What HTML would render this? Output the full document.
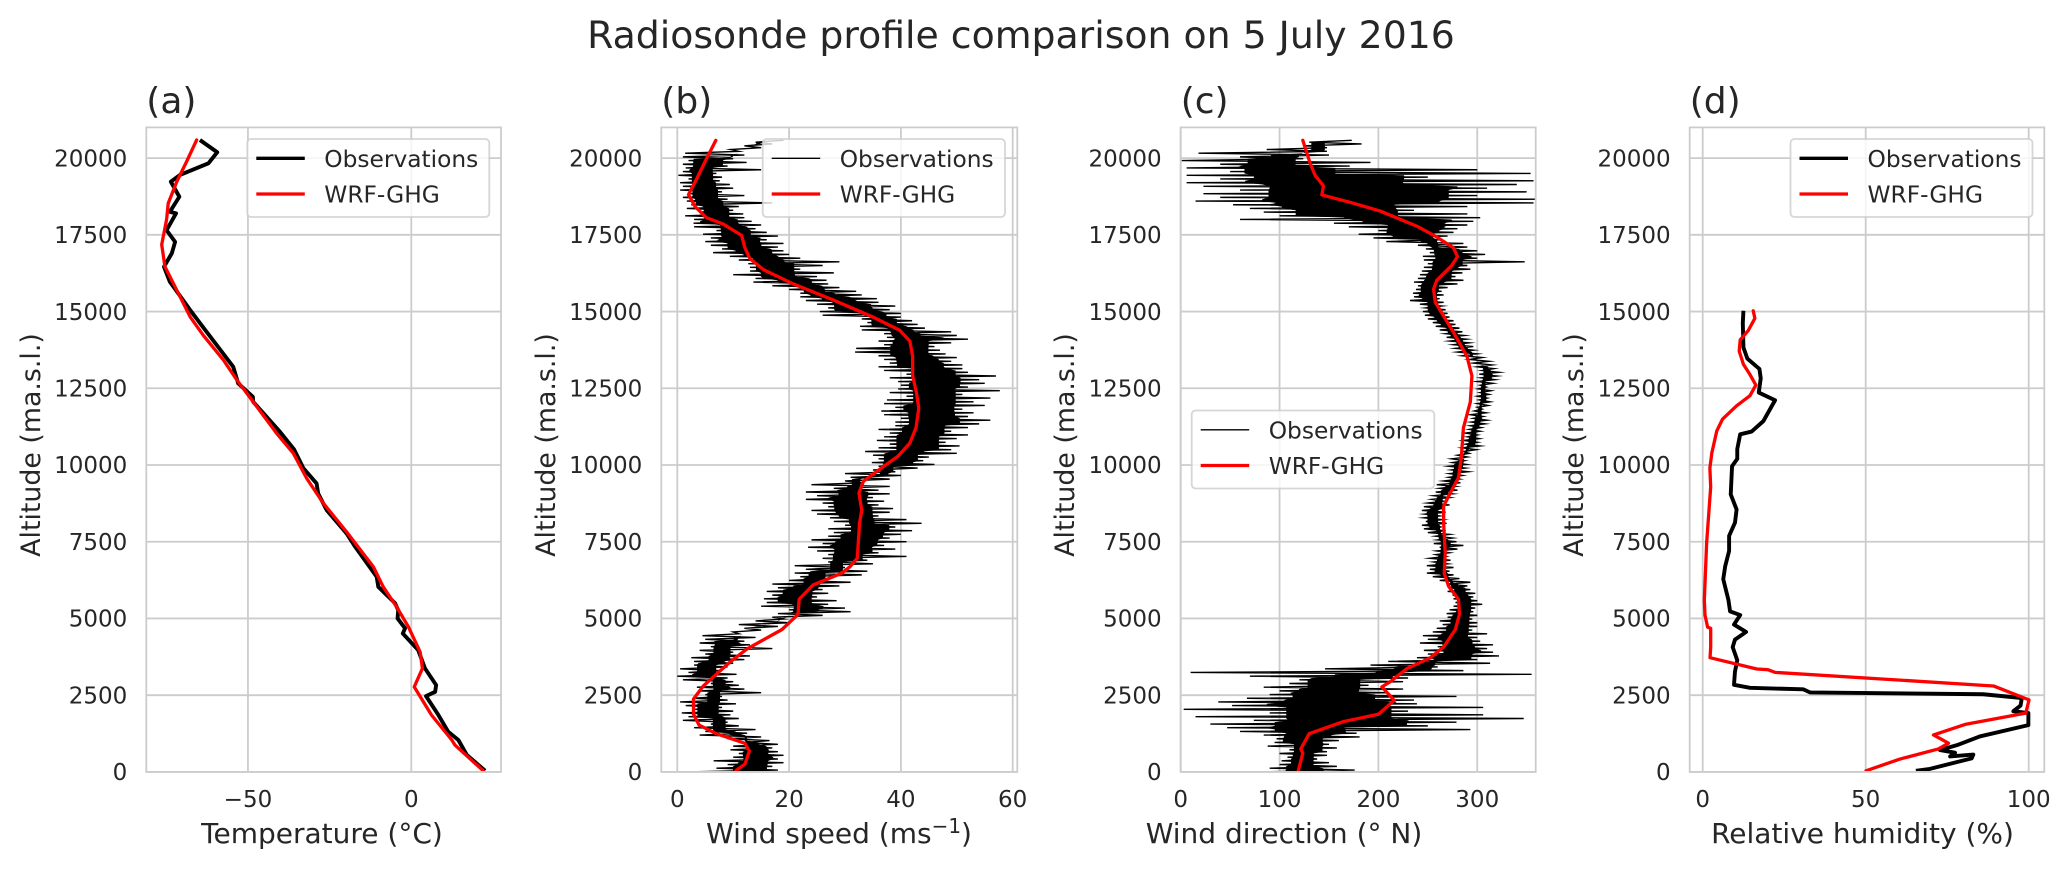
<!DOCTYPE html>
<html lang="en">
<head>
<meta charset="utf-8">
<title>Radiosonde profile comparison on 5 July 2016</title>
<style>
  html, body { margin: 0; padding: 0; background: #fff; }
  svg { display: block; font-family: "DejaVu Sans", "Liberation Sans", sans-serif; fill: #262626; }
</style>
</head>
<body>
<svg id="figure" xmlns="http://www.w3.org/2000/svg" width="2067" height="871" viewBox="0 0 2067 871">
  <rect x="0" y="0" width="2067" height="871" fill="#fff"/>
  <text x="1021" y="48" font-size="37.8" text-anchor="middle">Radiosonde profile comparison on 5 July 2016</text>
</svg>
<script>
const altitudeTicks = [0, 2500, 5000, 7500, 10000, 12500, 15000, 17500, 20000];

const tempTicks = [-50, 0];
const speedTicks = [0, 20, 40, 60];
const directionTicks = [0, 100, 200, 300];
const humidityTicks = [0, 50, 100];

const obsTempAlt = [40,550,1040,1310,1850,2470,2610,2830,3370,3970,4510,4680,5000,5270,5500,6030,6360,7340,7770,8530,9070,9400,9890,10510,11080,12060,12220,12660,13200,13690,14400,15050,15970,16460,16900,17270,17650,18200,18250,18740,19230,19450,19830,20190,20590];
const obsTemp = [22.6,17,14.4,11.3,8.3,4.5,7.3,7.6,4.2,2.1,-2.6,-1.9,-4.2,-4,-5,-10.1,-10.6,-17.2,-19.8,-25.9,-28.5,-29,-33,-35.9,-40.2,-48.4,-48.5,-53,-54.5,-58,-63.1,-67.7,-73.9,-75.7,-73.3,-72.3,-74.9,-72,-73.9,-71,-73.6,-70.8,-62.1,-59.4,-64.7];
const wrfTempAlt = [40,870,1040,1850,2770,3370,3910,4730,5380,6030,6680,7820,8750,9560,10380,11030,12060,12770,13420,14230,14830,15700,16460,17180,18000,18530,19230,19880,20590];
const wrfTemp = [22,13.4,12.4,6.2,0.9,3.4,2.7,-0.9,-4.5,-8.6,-11.6,-19.8,-26.9,-32,-36.1,-41.2,-48.4,-53.4,-57.5,-63.7,-67.7,-71.8,-75.4,-76.4,-74.9,-74.4,-71.8,-68.8,-65.7];

const obsAltitude = [
0,60,120,180,240,300,360,420,480,540,
600,660,720,780,840,900,960,1020,1080,1140,
1200,1260,1320,1380,1440,1500,1560,1620,1680,1740,
1800,1860,1920,1980,2040,2100,2160,2220,2280,2340,
2400,2460,2520,2580,2640,2700,2760,2820,2880,2940,
3000,3060,3120,3180,3240,3300,3360,3420,3480,3540,
3600,3660,3720,3780,3840,3900,3960,4020,4080,4140,
4200,4260,4320,4380,4440,4500,4560,4620,4680,4740,
4800,4860,4920,4980,5040,5100,5160,5220,5280,5340,
5400,5460,5520,5580,5640,5700,5760,5820,5880,5940,
6000,6060,6120,6180,6240,6300,6360,6420,6480,6540,
6600,6660,6720,6780,6840,6900,6960,7020,7080,7140,
7200,7260,7320,7380,7440,7500,7560,7620,7680,7740,
7800,7860,7920,7980,8040,8100,8160,8220,8280,8340,
8400,8460,8520,8580,8640,8700,8760,8820,8880,8940,
9000,9060,9120,9180,9240,9300,9360,9420,9480,9540,
9600,9660,9720,9780,9840,9900,9960,10020,10080,10140,
10200,10260,10320,10380,10440,10500,10560,10620,10680,10740,
10800,10860,10920,10980,11040,11100,11160,11220,11280,11340,
11400,11460,11520,11580,11640,11700,11760,11820,11880,11940,
12000,12060,12120,12180,12240,12300,12360,12420,12480,12540,
12600,12660,12720,12780,12840,12900,12960,13020,13080,13140,
13200,13260,13320,13380,13440,13500,13560,13620,13680,13740,
13800,13860,13920,13980,14040,14100,14160,14220,14280,14340,
14400,14460,14520,14580,14640,14700,14760,14820,14880,14940,
15000,15060,15120,15180,15240,15300,15360,15420,15480,15540,
15600,15660,15720,15780,15840,15900,15960,16020,16080,16140,
16200,16260,16320,16380,16440,16500,16560,16620,16680,16740,
16800,16860,16920,16980,17040,17100,17160,17220,17280,17340,
17400,17460,17520,17580,17640,17700,17760,17820,17880,17940,
18000,18060,18120,18180,18240,18300,18360,18420,18480,18540,
18600,18660,18720,18780,18840,18900,18960,19020,19080,19140,
19200,19260,19320,19380,19440,19500,19560,19620,19680,19740,
19800,19860,19920,19980,20040,20100,20160,20220,20280,20340,
20400,20460,20520,20580];

const obsSpeed = [
1.5,18,7,17,9,19,6.5,18,10,19,
11,18,9.5,17,10,18,12,16.5,9,15,
4,12.5,5,14,3,11,6,9,1,11,
2,9.5,0.8,10,3,8,1.5,10.5,0.5,9,
3,8,5,15,4,12,3.5,11,6,10,
1,9,0,10.6,2,7.5,0.5,9,3,10,
3,12,2.5,13,5,10,4,17,6,13,
4,12,5,14,4.5,11,10,15,12,18,
11,20,14,19,17,26,18,31,20,30,
15,27,16,28.5,15.5,25,17,27,16,26,
18,29,17,31,20,27,22,33,21,34,
23,30,21,35,27,34,26,41,27,36,
25,39,23.4,37,26,41,24,38,27,40,
28,42,27,39,30,43.7,28,41,27.3,36,
25,38,24,38.6,27,36,26,37,23,35,
25,38,23,36,28,38,24,33,30,38,
31,40,30,39,35,43,36,46,34.8,44,
36,45,35,50,33.6,49,36,50.5,38,48,
35.7,50,37,52,38,49,36,52,39,54,
39,56,40,52,37,53,36.5,51,39,55,
37,53,37.5,56,41,51,38,57.7,39.5,52,
40,55,39.5,54,38,57,41,52,37,51,
36,51,38,49,37,50,36,48,31.8,47,
32,46,37,49,36,52,37.5,50,37,49,
33,44.3,32.7,43,34,42,33,40,26,40,
25.5,38,27,39,25,36,23,35.7,22,33,
22,32,20,29,17,27,13.6,26.7,14,25,
10,28,13,22,13,26,12.7,29,11,22,
9.4,20,6.4,19,8,18,6,19,5,16,
6,18,4.6,16,7,14,3,15,2.9,13.3,
3,12,1.4,11.8,4,10,1.7,11,2.5,17,
1.7,9,1,12,2,8,0.5,10,1,9.4,
0.5,7.6,2,8,0.2,7,1,15,1.5,9,
1,12.4,2,10,1,12,1.4,11,9.5,15,
12,17,14,19];

const obsDirection = [
79,176,90,158,100,150,102,138,108,148,
100,148,110,158,88,150,95,160,97,181,
84,178,60,293,47,250,30,279,74,347,
15,306,90,230,3,306,52,239,38,236,
67,279,90,210,100,225,84,190,110,225,
120,230,70,355,10,286,146,260,192,313,
210,300,239,322,250,316,246,310,260,316,
242,303,250,300,245,310,255,295,259,300,
265,300,262,295,270,300,269,296,272,298,
276,305,278,300,276,296,275,298,270,293,
272,290,269,293,262,282,255,276,249,272,
252,276,249,270,256,273,252,268,258,272,
259,280,262,286,256,279,260,275,258,272,
250,268,246,264,244,269,248,265,246,262,
247,268,244,266,246,272,250,266,254,272,
256,275,258,280,262,278,259,283,266,282,
271,285,272,291,274,288,271,289,275,287,
274,290,280,292,286,299,285,303,288,300,
286,302,290,300,288,303,292,304,293,308,
294,310,296,306,293,309,297,305,300,311,
300,313,302,310,300,312,303,314,301,309,
303,316,300,318,304,320,302,322,305,317,
300,315,296,312,292,305,285,300,280,296,
278,296,276,292,272,289,269,287,268,285,
262,282,258,278,255,276,250,272,247,270,
245,268,248,264,242,266,232,262,236,266,
235,264,238,270,240,280,236,286,240,278,
242,285,244,293,246,290,250,348,246,300,
245,308,252,300,248,290,240,286,208,262,
195,270,180,276,200,280,170,290,155,296,
60,303,100,290,84,236,70,290,53,357,
15,359,40,300,23,350,60,310,23,340,
6,357,40,250,6,354,50,300,6,171,
40,192,1,124,60,150,18,148,87,148,
124,183,130,173];

const wrfSpeedAlt = [42,254,678,933,1244,1526,1880,2375,2799,3576,4000,4636,5130,5625,6092,6473,6685,6968,8099,8523,9088,9470,9795,10290,10713,11208,11844,12340,12905,13540,14035,14388,14812,15377,15900,16367,16720,17073,17483,17850,18060,18417,18810,19335,19970,20580];
const wrfSpeed = [10.5,12.1,12.9,12.1,7,3.9,2.9,2.9,4.65,9.4,12.4,18.7,21.6,21.8,24.3,29.4,30.9,32.2,32.6,33,32.5,33.3,35.7,39.5,41.6,42.7,43.2,42.8,42.1,42.1,41.6,39.8,35.1,27.9,20.75,15.4,13,12.1,11.5,8.2,5.2,3.2,2,3.5,5.2,6.9];

const wrfDirectionAlt = [42,608,749,1244,1640,1880,2332,2770,2940,3364,3717,4070,4636,5130,5625,6049,6473,7109,8099,8664,9088,9583,10219,11208,12056,12905,13540,14318,15307,15730,16014,16508,16790,17073,17430,17780,18275,18560,18800,19095,19435,19830,20580];
const wrfDirection = [119,123.5,121.5,130,164.7,200,216,203.5,212,228.8,252.4,266,277.8,282,281,271,266.6,267.6,266,266,272.7,281,283.8,286,293,294.6,289.6,276,257.5,255.8,259,274.4,280,276,259,239,201.8,171.4,142.8,144.4,136,131,123.5];

const obsHumidityAlt = [37,98,442,565,504,627,712,872,1155,1523,1916,1978,2162,2408,2530,2590,2690,2740,2838,3268,3636,4066,4310,4560,4800,5110,5230,5600,6280,6700,7200,7690,8120,8550,9040,9960,10200,10516,11000,11090,11430,12110,12360,12825,13130,13465,13830,14630,15025];
const obsHumidity = [65.4,69.7,82.5,83,75.9,77.4,72.8,78,85,99.9,99.9,95.3,97.5,97.9,86,32.9,30.9,14.5,9.6,9.9,10.6,9.2,9.9,13.3,9.6,11.5,8.4,7.9,6.3,6.9,8.1,8.1,9.9,10.4,8.6,9,10.6,10.6,11.5,15,18.6,22.2,17.2,17.8,17.4,13.7,12.5,12.3,12.5];
const wrfHumidityAlt = [37,418,749,934,1204,1548,1916,2346,2800,3243,3330,3354,3722,4066,4680,4717,5110,5600,7445,9287,9900,10393,11105,11498,11930,12260,12604,12948,13280,13710,14078,14386,14779,15025];
const wrfHumidity = [50.1,60.5,72.3,75.4,70.8,80.5,99.1,100.1,89.2,22.2,20,16.6,2.25,2.45,2.45,1.5,0.7,0.5,1.2,2.45,2.2,2.8,4.3,6.1,10.4,14.5,16.3,14.5,12.5,11.2,11.5,14,16,15.5];

const NS = 'http://www.w3.org/2000/svg';
const fig = document.getElementById('figure');
const TOP = 127.4, BOTTOM = 771.9;
const GRID = '#cccccc';

function altToY(a) { return 771.9 - a * 0.03069; }

function pathFrom(xs, alts, sx) {
  let d = '';
  for (let i = 0; i < xs.length; i++) {
    d += (i ? 'L' : 'M') + sx(xs[i]).toFixed(2) + ' ' + altToY(alts[i]).toFixed(2);
  }
  return d;
}

// Solid core of a noisy zigzag series: the band every nearby oscillation crosses, trimmed a little.
function corePath(xs, alts, sx) {
  const win = 3, trim = 0.12;
  const lows = [], highs = [], ys = [];
  for (let i = 0; i < xs.length - 1; i++) {
    let lo = -Infinity, hi = Infinity;
    for (let j = Math.max(0, i - win); j <= Math.min(xs.length - 2, i + win); j++) {
      lo = Math.max(lo, Math.min(xs[j], xs[j + 1]));
      hi = Math.min(hi, Math.max(xs[j], xs[j + 1]));
    }
    if (lo > hi) { const m = (lo + hi) / 2; lo = m; hi = m; }
    const span = hi - lo;
    lows.push(sx(lo + span * trim));
    highs.push(sx(hi - span * trim));
    ys.push(altToY(alts[i]));
  }
  let d = '';
  for (let i = 0; i < lows.length; i++) {
    d += (i ? 'L' : 'M') + lows[i].toFixed(2) + ' ' + ys[i].toFixed(2);
  }
  for (let i = lows.length - 1; i >= 0; i--) {
    d += 'L' + highs[i].toFixed(2) + ' ' + ys[i].toFixed(2);
  }
  return d + 'Z';
}

function makeLine(parent, x1, y1, x2, y2, stroke, width) {
  const l = document.createElementNS(NS, 'line');
  l.setAttribute('x1', x1);
  l.setAttribute('y1', y1);
  l.setAttribute('x2', x2);
  l.setAttribute('y2', y2);
  l.setAttribute('stroke', stroke);
  l.setAttribute('stroke-width', width);
  parent.appendChild(l);
  return l;
}

function makeText(parent, x, y, size, anchor, str) {
  const t = document.createElementNS(NS, 'text');
  t.setAttribute('x', x);
  t.setAttribute('y', y);
  t.setAttribute('font-size', size);
  t.setAttribute('text-anchor', anchor);
  t.textContent = str;
  parent.appendChild(t);
  return t;
}

function drawPanel(p) {
  const g = document.createElementNS(NS, 'g');
  
  
  fig.appendChild(g);

  const sx = v => p.x0 + v * p.k;

  // gridlines
  altitudeTicks.forEach(a => {
    const y = altToY(a);
    const gl = makeLine(g, p.left, y, p.right, y, GRID, 1.8);
    
    
    const tl = makeText(g, p.left - 19, y + 8.2, 23, 'end', String(a));
    
    
  });
  p.ticks.forEach(v => {
    const x = sx(v);
    const gl = makeLine(g, x, TOP, x, BOTTOM, GRID, 1.8);
    
    
    const tl = makeText(g, x, 807, 23, 'middle', v < 0 ? '\u2212' + Math.abs(v) : String(v));
    
    
  });

  // clip region
  const cp = document.createElementNS(NS, 'clipPath');
  cp.setAttribute('id', 'clip-' + p.id);
  const cr = document.createElementNS(NS, 'rect');
  cr.setAttribute('x', p.left);
  cr.setAttribute('y', TOP);
  cr.setAttribute('width', p.right - p.left);
  cr.setAttribute('height', BOTTOM - TOP);
  cp.appendChild(cr);
  g.appendChild(cp);

  // series
  if (p.noisy) {
    const core = document.createElementNS(NS, 'path');
    
    
    core.setAttribute('d', corePath(p.obs, p.obsAlt, sx));
    core.setAttribute('fill', '#000');
    core.setAttribute('clip-path', 'url(#clip-' + p.id + ')');
    g.appendChild(core);
  }

  const obs = document.createElementNS(NS, 'path');
  
  
  obs.setAttribute('d', pathFrom(p.obs, p.obsAlt, sx));
  obs.setAttribute('fill', 'none');
  obs.setAttribute('stroke', '#000');
  obs.setAttribute('stroke-width', p.obsWidth);
  obs.setAttribute('stroke-linejoin', p.noisy ? 'miter' : 'round');
  obs.setAttribute('stroke-miterlimit', '10');
  obs.setAttribute('clip-path', 'url(#clip-' + p.id + ')');
  g.appendChild(obs);

  const wrf = document.createElementNS(NS, 'path');
  
  
  wrf.setAttribute('d', pathFrom(p.wrf, p.wrfAlt, sx));
  wrf.setAttribute('fill', 'none');
  wrf.setAttribute('stroke', '#ff0000');
  wrf.setAttribute('stroke-width', 3.3);
  wrf.setAttribute('stroke-linejoin', 'round');
  wrf.setAttribute('stroke-linecap', 'round');
  wrf.setAttribute('clip-path', 'url(#clip-' + p.id + ')');
  g.appendChild(wrf);

  // spines
  const frame = document.createElementNS(NS, 'rect');
  
  
  frame.setAttribute('x', p.left);
  frame.setAttribute('y', TOP);
  frame.setAttribute('width', p.right - p.left);
  frame.setAttribute('height', BOTTOM - TOP);
  frame.setAttribute('fill', 'none');
  frame.setAttribute('stroke', GRID);
  frame.setAttribute('stroke-width', 1.8);
  g.appendChild(frame);

  // panel letter
  const title = makeText(g, p.left, 113, 36, 'start', '(' + p.id + ')');
  
  

  // axis labels
  const xl = makeText(g, p.xlabelX, 843, 28, 'middle', '');
  
  
  xl.textContent = p.xlabel;
  if (p.xsup) {
    const sup = document.createElementNS(NS, 'tspan');
    sup.setAttribute('dy', '-10');
    sup.setAttribute('font-size', '20');
    sup.textContent = p.xsup;
    xl.appendChild(sup);
    const end = document.createElementNS(NS, 'tspan');
    end.setAttribute('dy', '10');
    end.textContent = ')';
    xl.appendChild(end);
  }
  const yx = p.left - 106.5;
  const yl = makeText(g, yx, 445, 26.8, 'middle', 'Altitude (ma.s.l.)');
  
  
  yl.setAttribute('transform', 'rotate(-90 ' + yx + ' 445)');

  // legend
  const lg = document.createElementNS(NS, 'g');
  
  
  g.appendChild(lg);
  const box = document.createElementNS(NS, 'rect');
  
  
  box.setAttribute('x', p.lx);
  box.setAttribute('y', p.ly);
  box.setAttribute('width', p.lw);
  box.setAttribute('height', 78);
  box.setAttribute('rx', 4);
  box.setAttribute('fill', '#fff');
  box.setAttribute('fill-opacity', 0.8);
  box.setAttribute('stroke', GRID);
  box.setAttribute('stroke-opacity', 0.8);
  box.setAttribute('stroke-width', 1.8);
  lg.appendChild(box);

  const k1 = makeLine(lg, p.lx + 9, p.ly + 19.3, p.lx + 57.5, p.ly + 19.3, '#000', p.noisy ? 1.3 : 3.4);
  
  
  const t1 = makeText(lg, p.lx + 77, p.ly + 28, 23.3, 'start', 'Observations');
  
  
  const k2 = makeLine(lg, p.lx + 9, p.ly + 55, p.lx + 57.5, p.ly + 55, '#ff0000', 3.3);
  
  
  const t2 = makeText(lg, p.lx + 77, p.ly + 63.5, 23.3, 'start', 'WRF-GHG');
  
  
}

drawPanel({ id: 'a', left: 146.3, right: 501, x0: 411.3, k: 3.267, ticks: tempTicks,
  obs: obsTemp, obsAlt: obsTempAlt, wrf: wrfTemp, wrfAlt: wrfTempAlt, obsWidth: 3.9, noisy: false,
  xlabel: 'Temperature (\u00B0C)', xlabelX: 322, lx: 247.3, ly: 139, lw: 242 });

drawPanel({ id: 'b', left: 661.3, right: 1017.3, x0: 677.3, k: 5.59, ticks: speedTicks,
  obs: obsSpeed, obsAlt: obsAltitude, wrf: wrfSpeed, wrfAlt: wrfSpeedAlt, obsWidth: 1.4, noisy: true,
  xlabel: 'Wind speed (ms', xsup: '\u22121', xlabelX: 839, lx: 762.7, ly: 139, lw: 242.3 });

drawPanel({ id: 'c', left: 1180.7, right: 1535.7, x0: 1180.7, k: 0.9885, ticks: directionTicks,
  obs: obsDirection, obsAlt: obsAltitude, wrf: wrfDirection, wrfAlt: wrfDirectionAlt, obsWidth: 1.4, noisy: true,
  xlabel: 'Wind direction (\u00B0 N)', xlabelX: 1284, lx: 1191.7, ly: 410.5, lw: 242.6 });

drawPanel({ id: 'd', left: 1689.7, right: 2044.3, x0: 1702.7, k: 3.26, ticks: humidityTicks,
  obs: obsHumidity, obsAlt: obsHumidityAlt, wrf: wrfHumidity, wrfAlt: wrfHumidityAlt, obsWidth: 3.9, noisy: false,
  xlabel: 'Relative humidity (%)', xlabelX: 1862.5, lx: 1790.5, ly: 139, lw: 242 });
</script>
</body>
</html>
